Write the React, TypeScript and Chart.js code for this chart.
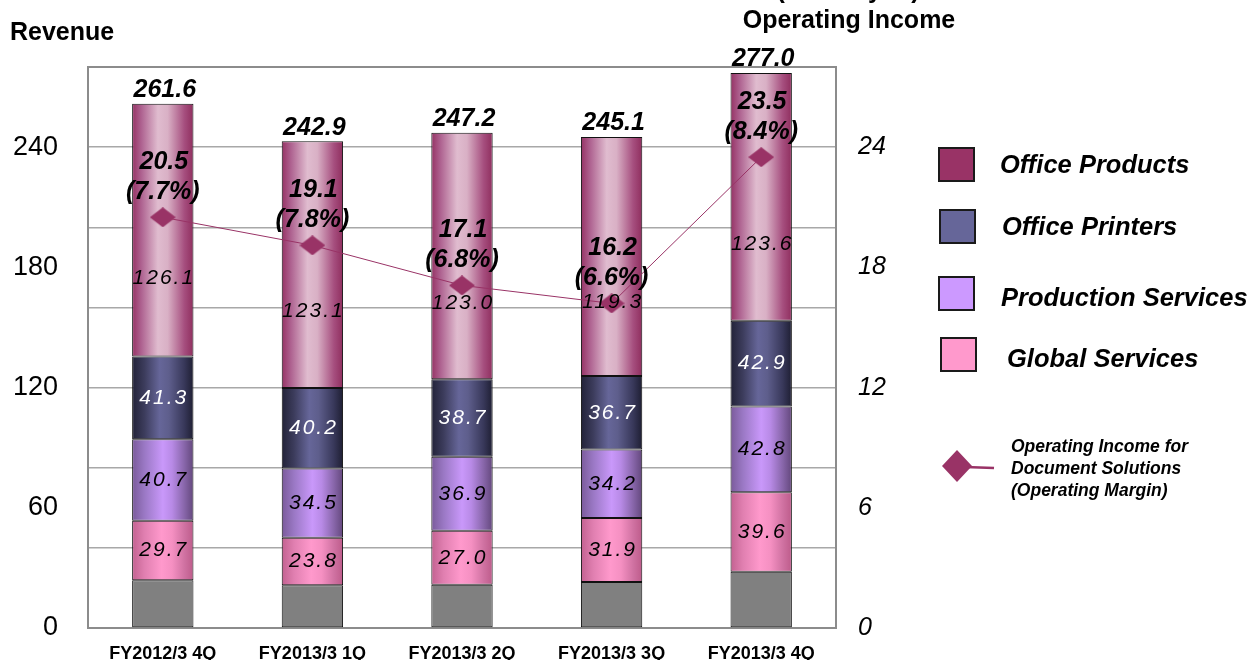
import React, { useEffect, useRef } from 'react';
import { Chart, registerables } from 'chart.js';

Chart.register(...registerables);

const categories = ['FY2012/3 4Q', 'FY2013/3 1Q', 'FY2013/3 2Q', 'FY2013/3 3Q', 'FY2013/3 4Q'];
const otherValues = [23.8, 21.3, 21.6, 23.0, 28.1];
const globalServices = [29.7, 23.8, 27.0, 31.9, 39.6];
const productionServices = [40.7, 34.5, 36.9, 34.2, 42.8];
const officePrinters = [41.3, 40.2, 38.7, 36.7, 42.9];
const officeProducts = [126.1, 123.1, 123.0, 119.3, 123.6];
const revenueTotals = [261.6, 242.9, 247.2, 245.1, 277.0];
const operatingIncome = [20.5, 19.1, 17.1, 16.2, 23.5];
const operatingMargin = [7.7, 7.8, 6.8, 6.6, 8.4];
const leftTicks = [0, 60, 120, 180, 240];
const rightTicks = [0, 6, 12, 18, 24];

const FONT = '"Liberation Sans", Arial, Helvetica, sans-serif';
const BAR_FRACTION = 0.41;

type Stop = [number, string];
const gradients: Record<string, Stop[]> = {
  products: [[0, '#953264'], [0.15, '#ae6290'], [0.42, '#e0bccf'], [0.58, '#d9b0c5'], [0.85, '#a64f7f'], [1, '#8f2e5e']],
  printers: [[0, '#222238'], [0.2, '#3c3c5c'], [0.45, '#666699'], [0.6, '#5e5e8c'], [0.85, '#38385a'], [1, '#1e1e32']],
  production: [[0, '#7a5a9a'], [0.2, '#9a78c4'], [0.5, '#c998fa'], [0.65, '#b88ae6'], [0.85, '#8866aa'], [1, '#63477c']],
  global: [[0, '#c26190'], [0.2, '#e07fb0'], [0.48, '#ff99cc'], [0.65, '#f590c2'], [0.85, '#d072a2'], [1, '#bd5b8a']],
};

function gradientFor(key: string, fallback: string) {
  return (ctx: any) => {
    const chart = ctx.chart;
    const xScale = chart.scales && chart.scales.x;
    if (!chart.chartArea || !xScale || ctx.dataIndex === undefined) return fallback;
    const cx = xScale.getPixelForValue(ctx.dataIndex);
    const w = (xScale.width / categories.length) * BAR_FRACTION;
    const g = chart.ctx.createLinearGradient(cx - w / 2, 0, cx + w / 2, 0);
    gradients[key].forEach(([o, c]) => g.addColorStop(o, c));
    return g;
  };
}

function makeDiamond(w: number, h: number, color: string) {
  const c = document.createElement('canvas');
  c.width = w;
  c.height = h;
  const g = c.getContext('2d')!;
  g.fillStyle = color;
  g.beginPath();
  g.moveTo(w / 2, 0);
  g.lineTo(w, h / 2);
  g.lineTo(w / 2, h);
  g.lineTo(0, h / 2);
  g.closePath();
  g.fill();
  return c;
}

const noPad = (s: any) => {
  s.paddingTop = 0;
  s.paddingBottom = 0;
  s.paddingLeft = 0;
  s.paddingRight = 0;
};

const frameAndLabels = {
  id: 'frameAndLabels',
  beforeDatasetsDraw(chart: any) {
    const { ctx, chartArea: a } = chart;
    ctx.save();
    ctx.strokeStyle = '#8c8c8c';
    ctx.lineWidth = 2;
    ctx.strokeRect(a.left, a.top, a.right - a.left, a.bottom - a.top);
    ctx.restore();
  },
  afterDatasetsDraw(chart: any) {
    const ctx = chart.ctx;
    ctx.save();
    ctx.textAlign = 'center';
    ctx.textBaseline = 'middle';
    const segs = [
      { idx: 1, data: globalServices, color: '#000' },
      { idx: 2, data: productionServices, color: '#000' },
      { idx: 3, data: officePrinters, color: '#fff' },
      { idx: 4, data: officeProducts, color: '#000' },
    ];
    ctx.font = `italic 21px ${FONT}`;
    (ctx as any).letterSpacing = '2px';
    segs.forEach((s) => {
      const meta = chart.getDatasetMeta(s.idx);
      meta.data.forEach((el: any, i: number) => {
        const top = Math.min(el.y, el.base);
        const bot = Math.max(el.y, el.base);
        const y = s.idx === 4 ? top + (bot - top) * 0.69 : (top + bot) / 2;
        ctx.fillStyle = s.color;
        ctx.fillText(s.data[i].toFixed(1), el.x + 1, y);
      });
    });
    (ctx as any).letterSpacing = '0px';
    ctx.font = `italic bold 25px ${FONT}`;
    ctx.fillStyle = '#000';
    ctx.textBaseline = 'bottom';
    const topMeta = chart.getDatasetMeta(4);
    topMeta.data.forEach((el: any, i: number) => {
      ctx.fillText(revenueTotals[i].toFixed(1), el.x + 2, Math.min(el.y, el.base) - 1);
    });
    ctx.textBaseline = 'middle';
    const lineMeta = chart.getDatasetMeta(5);
    lineMeta.data.forEach((pt: any, i: number) => {
      ctx.fillText(operatingIncome[i].toFixed(1), pt.x + 1, pt.y - 55);
      ctx.fillText(`(${operatingMargin[i].toFixed(1)}%)`, pt.x, pt.y - 25);
    });
    ctx.restore();
  },
  afterDraw(chart: any) {
    const ctx = chart.ctx;
    ctx.save();
    ctx.fillStyle = '#000';
    ctx.textBaseline = 'middle';
    ctx.textAlign = 'left';
    ctx.font = `bold 25px ${FONT}`;
    ctx.fillText('Revenue', 10, 33);
    ctx.textAlign = 'center';
    ctx.fillText('Operating Income', 849, 21);
    ctx.textBaseline = 'alphabetic';
    ctx.fillText('(Billion yen)', 848, -2);
    const items = [
      { label: 'Office Products', color: '#993366', sx: 939, sy: 148, tx: 1000, ty: 166 },
      { label: 'Office Printers', color: '#666699', sx: 940, sy: 210, tx: 1002, ty: 228 },
      { label: 'Production Services', color: '#cc99ff', sx: 939, sy: 277, tx: 1001, ty: 299 },
      { label: 'Global Services', color: '#ff99cc', sx: 941, sy: 338, tx: 1007, ty: 360 },
    ];
    ctx.textAlign = 'left';
    ctx.textBaseline = 'middle';
    ctx.font = `italic bold 25.5px ${FONT}`;
    items.forEach((it) => {
      ctx.fillStyle = it.color;
      ctx.fillRect(it.sx, it.sy, 35, 33);
      ctx.strokeStyle = '#1a1a1a';
      ctx.lineWidth = 2;
      ctx.strokeRect(it.sx, it.sy, 35, 33);
      ctx.fillStyle = '#000';
      ctx.fillText(it.label, it.tx, it.ty);
    });
    ctx.strokeStyle = '#993366';
    ctx.lineWidth = 2.5;
    ctx.beginPath();
    ctx.moveTo(965, 467);
    ctx.lineTo(994, 468);
    ctx.stroke();
    ctx.fillStyle = '#993366';
    ctx.beginPath();
    ctx.moveTo(957, 450);
    ctx.lineTo(972, 466);
    ctx.lineTo(957, 482);
    ctx.lineTo(942, 466);
    ctx.closePath();
    ctx.fill();
    ctx.fillStyle = '#000';
    ctx.font = `italic bold 17.5px ${FONT}`;
    ctx.fillText('Operating Income for', 1011, 447);
    ctx.fillText('Document Solutions', 1011, 469);
    ctx.fillText('(Operating Margin)', 1011, 491);
    ctx.restore();
  },
};

export default function App() {
  const ref = useRef<HTMLCanvasElement | null>(null);

  useEffect(() => {
    if (!ref.current) return;
    const diamond = makeDiamond(26, 20, '#993366');
    const barCommon = {
      type: 'bar' as const,
      yAxisID: 'y',
      stack: 'rev',
      borderColor: '#111',
      borderWidth: 1,
      borderSkipped: false,
      barPercentage: BAR_FRACTION,
      categoryPercentage: 1,
      order: 1,
    };
    const chart = new Chart(ref.current, {
      type: 'bar',
      data: {
        labels: categories,
        datasets: [
          { ...barCommon, label: 'Other', data: otherValues, backgroundColor: '#808080' },
          { ...barCommon, label: 'Global Services', data: globalServices, backgroundColor: gradientFor('global', '#ff99cc') },
          { ...barCommon, label: 'Production Services', data: productionServices, backgroundColor: gradientFor('production', '#cc99ff') },
          { ...barCommon, label: 'Office Printers', data: officePrinters, backgroundColor: gradientFor('printers', '#666699') },
          { ...barCommon, label: 'Office Products', data: officeProducts, backgroundColor: gradientFor('products', '#993366') },
          {
            type: 'line' as const,
            label: 'Operating Income for Document Solutions (Operating Margin)',
            data: operatingIncome,
            yAxisID: 'y1',
            borderColor: '#993366',
            borderWidth: 1,
            backgroundColor: '#993366',
            pointStyle: diamond as any,
            pointRadius: 12,
            fill: false,
            tension: 0,
            order: 0,
          } as any,
        ],
      },
      options: {
        responsive: false,
        animation: false,
        events: [],
        layout: { padding: { top: 67, left: 0, right: 0, bottom: 0 } },
        plugins: { legend: { display: false }, tooltip: { enabled: false }, title: { display: false } },
        scales: {
          x: {
            stacked: true,
            grid: { display: false, drawTicks: false },
            border: { display: false },
            ticks: {
              color: '#000',
              font: { family: FONT, size: 18, weight: 'bold' },
              padding: 15,
              maxRotation: 0,
              autoSkip: false,
            },
            afterFit: (s: any) => {
              s.height = 32;
              noPad(s);
            },
          },
          y: {
            stacked: true,
            position: 'left',
            min: 0,
            max: 280,
            border: { display: false },
            grid: {
              drawTicks: false,
              lineWidth: 1.5,
              color: (c: any) =>
                c.tick && c.tick.value % 40 === 0 && c.tick.value > 0 && c.tick.value < 280 ? '#a8a8a8' : 'rgba(0,0,0,0)',
            },
            ticks: {
              stepSize: 20,
              autoSkip: false,
              color: '#000',
              padding: 30,
              font: { family: FONT, size: 27 },
              callback: (v: any) => (leftTicks.includes(Number(v)) ? String(v) : ''),
            },
            afterFit: (s: any) => {
              s.width = 88;
              noPad(s);
            },
          },
          y1: {
            position: 'right',
            min: 0,
            max: 28,
            border: { display: false },
            grid: { display: false, drawTicks: false },
            ticks: {
              stepSize: 2,
              autoSkip: false,
              color: '#000',
              padding: 22,
              font: { family: FONT, size: 25, style: 'italic' },
              callback: (v: any) => (rightTicks.includes(Number(v)) ? String(v) : ''),
            },
            afterFit: (s: any) => {
              s.width = 415;
              noPad(s);
            },
          },
        },
      },
      plugins: [frameAndLabels],
    });
    return () => chart.destroy();
  }, []);

  return (
    <div style={{ position: 'absolute', left: 0, top: 0, width: 1251, height: 660, background: '#fff' }}>
      <canvas ref={ref} width={1251} height={660} style={{ display: 'block', width: 1251, height: 660 }} />
    </div>
  );
}
